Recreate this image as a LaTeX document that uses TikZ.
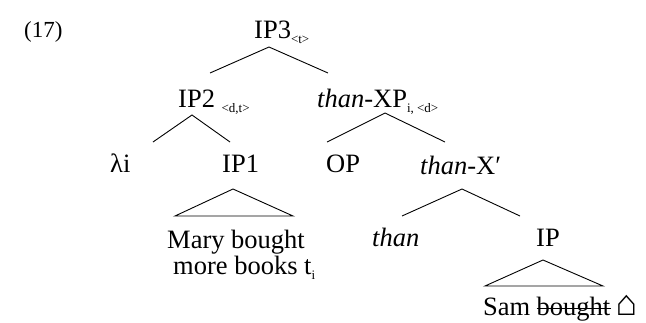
\documentclass[tikz,border=0pt]{standalone}
\usepackage{fontspec}
\setmainfont{Liberation Serif}
\tikzset{
  lab/.style={inner sep=0pt, anchor=base west, font=\fontsize{26.5}{28}\selectfont},
  edge/.style={line width=0.9pt},
}
\newcommand{\sbs}[1]{\raisebox{-5pt}{\fontsize{13}{13}\selectfont #1}}
\begin{document}
\begin{tikzpicture}[x=1pt,y=-1pt]
\useasboundingbox (0,0) rectangle (646,322);
\node[lab, font=\fontsize{23}{24}\selectfont] (num) at (24,37) {(17)};
\node[lab] (ip3) at (254,38) {IP3\sbs{<t>}};
\node[lab] (ip2) at (178,107) {IP2 \sbs{<d,t>}};
\node[lab] (txp) at (317,107) {\textit{than}-XP\sbs{i, <d>}};
\node[lab] (lam) at (110,172) {λi};
\node[lab] (ip1) at (222,172) {IP1};
\node[lab] (op) at (326,172) {OP};
\node[lab] (txb) at (420,174) {\textit{than}-X′};
\node[lab] (than) at (372,246) {\textit{than}};
\node[lab] (ip) at (536,246) {IP};
\node[lab] (mary) at (167,248) {Mary bought};
\node[lab] (more) at (173,274) {more books t\sbs{i}};
\node[lab] (sam) at (483,315) {Sam};
\node[lab, anchor=base west] (bgt) at ([xshift=6pt]sam.base east) {bought};
\node[lab, anchor=base west, font=\fontsize{36}{36}\selectfont] (house) at ([xshift=5pt]bgt.base east) {⌂};
\draw[line width=1pt] ([yshift=7pt]bgt.base west) -- ([yshift=7pt]bgt.base east);
% apex and leaf points
\coordinate (a3) at (269,47);
\coordinate (a3l) at (210,73);
\coordinate (a3r) at (328,73);
\coordinate (a2) at (192,115);
\coordinate (a2l) at (153,142);
\coordinate (a2r) at (230,142);
\coordinate (ax) at (385,113);
\coordinate (axl) at (327,142);
\coordinate (axr) at (445,142);
\coordinate (ab) at (462,189);
\coordinate (abl) at (402,216);
\coordinate (abr) at (520,216);
\coordinate (t1) at (233,189);
\coordinate (t1l) at (175,216);
\coordinate (t1r) at (293,216);
\coordinate (t2) at (543,260);
\coordinate (t2l) at (485,286);
\coordinate (t2r) at (603,286);
\draw[edge] (a3l) -- (a3) -- (a3r);
\draw[edge] (a2l) -- (a2) -- (a2r);
\draw[edge] (axl) -- (ax) -- (axr);
\draw[edge] (abl) -- (ab) -- (abr);
\draw[edge] (t1l) -- (t1) -- (t1r) -- cycle;
\draw[edge] (t2l) -- (t2) -- (t2r) -- cycle;
\end{tikzpicture}
\end{document}
